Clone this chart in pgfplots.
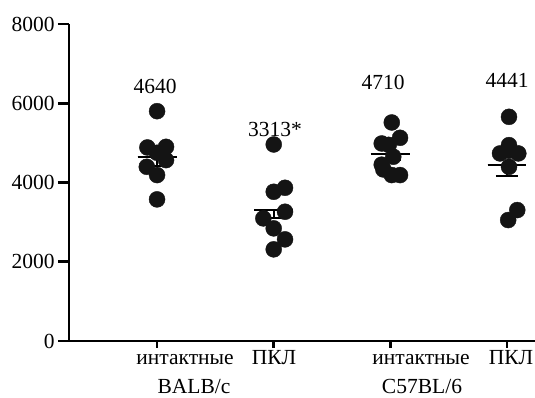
\documentclass[border=0pt]{standalone}
\usepackage{fontspec}
\setmainfont{Liberation Serif}
\usepackage{pgfplots}
\pgfplotsset{compat=1.18}
\definecolor{dot}{HTML}{141414}
\begin{document}
\fontsize{21.5}{25}\selectfont
\begin{tikzpicture}
\begin{axis}[
  scale only axis, width=466pt, height=317pt,
  xmin=-0.755, xmax=3.24, ymin=0, ymax=8000,
  axis x line*=bottom, axis y line*=left,
  axis line style={line width=2.6pt, -},
  ytick={0,2000,4000,6000,8000},
  xtick={0,1,2,3}, xticklabels={},
  tick align=outside,
  tick style={line width=2.6pt, black},
  ytick style={/pgfplots/major tick length=11pt},
  xtick style={/pgfplots/major tick length=7pt},
  yticklabel style={font=\fontsize{21.5}{25}\selectfont, inner sep=0pt, xshift=-10pt},
  /pgf/number format/assume math mode=true,
  /pgf/number format/1000 sep={},
  scaled y ticks=false,
  clip=false,
]
% means and SEM (below)
\addplot[black, line width=2pt, unbounded coords=jump] coordinates {
 (-0.167,4640) (0.167,4640) (nan,nan)
 (-0.095,4414) (0.095,4414) (nan,nan)
 (0,4414) (0,4640) (nan,nan)
 (0.833,3313) (1.167,3313) (nan,nan)
 (0.905,3102) (1.095,3102) (nan,nan)
 (1,3102) (1,3313) (nan,nan)
 (1.833,4710) (2.167,4710) (nan,nan)
 (1.905,4570) (2.095,4570) (nan,nan)
 (2,4570) (2,4710) (nan,nan)
 (2.833,4441) (3.167,4441) (nan,nan)
 (2.905,4161) (3.095,4161) (nan,nan)
 (3,4161) (3,4441)
};
% data points
\addplot[only marks, mark=*, mark size=8pt, mark options={fill=dot, draw=dot}] coordinates {
 (0,5800) (-0.083,4885) (0.077,4900) (0,4750) (0.077,4565) (-0.088,4396) (0,4187) (0,3574)
};
\addplot[only marks, mark=*, mark size=8pt, mark options={fill=dot, draw=dot}] coordinates {
 (1.0,4960) (1.0,3766) (1.097,3867) (1.097,3262) (0.911,3094) (1.0,2842) (1.097,2565) (1.0,2313)
};
\addplot[only marks, mark=*, mark size=8pt, mark options={fill=dot, draw=dot}] coordinates {
 (2.012,5515) (2.083,5128) (1.926,4985) (1.986,4950) (2.025,4650) (1.926,4450) (2.012,4187) (2.083,4187) (1.94,4330)
};
\addplot[only marks, mark=*, mark size=8pt, mark options={fill=dot, draw=dot}] coordinates {
 (3.017,5657) (3.017,4943) (2.94,4734) (3.097,4734) (3.017,4800) (3.017,4396) (3.088,3304) (3.01,3052)
};
% mean lines on top
\addplot[black, line width=2pt, unbounded coords=jump] coordinates {
 (-0.167,4640) (0.167,4640) (nan,nan)
 (0.833,3313) (1.167,3313) (nan,nan)
 (1.833,4710) (2.167,4710) (nan,nan)
 (2.833,4441) (3.167,4441)
};
% value labels
\node at (axis cs:-0.017,6436) {4640};
\node at (axis cs:1.011,5330) {3313*};
\node at (axis cs:1.937,6520) {4710};
\node at (axis cs:3.0,6575) {4441};
% category labels
\node[anchor=base] at (axis cs:0.24,-605) {интактные};
\node[anchor=base] at (axis cs:1.003,-605) {ПКЛ};
\node[anchor=base] at (axis cs:2.263,-605) {интактные};
\node[anchor=base] at (axis cs:3.034,-605) {ПКЛ};
\node[anchor=base] at (axis cs:0.317,-1337) {BALB/c};
\node[anchor=base] at (axis cs:2.271,-1337) {C57BL/6};
\end{axis}
\pgfresetboundingbox
\path (-69pt,-57pt) rectangle (466pt,341pt);
\end{tikzpicture}
\end{document}
